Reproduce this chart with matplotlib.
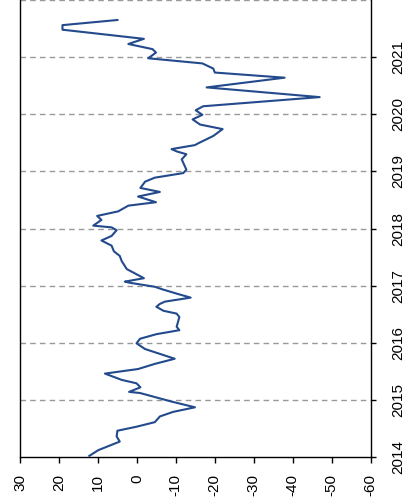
import matplotlib
matplotlib.use("Agg")
import matplotlib.pyplot as plt

plt.rcParams['font.family'] = ['Liberation Sans', 'DejaVu Sans']
plt.rcParams['axes.unicode_minus'] = False

# time (decimal year) and value
dates = [2014.02, 2014.12, 2014.27, 2014.36, 2014.46, 2014.53, 2014.61, 2014.71, 2014.79, 2014.87,
         2014.97, 2015.12, 2015.14, 2015.22, 2015.29, 2015.35, 2015.46, 2015.54, 2015.63, 2015.72,
         2015.89, 2015.99, 2016.07, 2016.15, 2016.22, 2016.28, 2016.45, 2016.51, 2016.56, 2016.63,
         2016.68, 2016.72, 2016.79, 2016.86, 2016.94, 2016.98, 2017.05, 2017.07, 2017.13, 2017.29,
         2017.43, 2017.52, 2017.60, 2017.70, 2017.79, 2017.87, 2017.97, 2018.02, 2018.05, 2018.15,
         2018.22, 2018.30, 2018.40, 2018.46, 2018.56, 2018.64, 2018.71, 2018.82, 2018.89, 2018.97,
         2019.03, 2019.21, 2019.30, 2019.35, 2019.39, 2019.46, 2019.49, 2019.62, 2019.74, 2019.82,
         2019.91, 2019.99, 2020.07, 2020.14, 2020.30, 2020.47, 2020.64, 2020.73, 2020.80, 2020.89,
         2020.98, 2021.08, 2021.14, 2021.23, 2021.32, 2021.48, 2021.56, 2021.65]
values = [12.2, 9.9, 4.4, 5.2, 5.0, 0.1, -4.6, -5.9, -9.3, -14.9,
          -8.9, -0.8, 2.0, -0.9, 0.1, 3.9, 8.2, -0.3, -4.6, -9.7,
          -2.1, 0.1, -0.8, -5.0, -10.9, -10.2, -10.9, -10.2, -6.8, -5.0,
          -5.9, -7.2, -13.8, -10.2, -6.3, -4.6, 1.8, 3.1, -1.8, 2.6,
          3.9, 4.4, 5.9, 6.5, 9.1, 6.5, 5.2, 6.5, 11.2, 9.1,
          10.2, 4.8, 2.2, -4.9, -0.3, -5.9, -0.9, -2.1, -4.6, -11.9,
          -12.7, -11.5, -12.7, -10.2, -8.9, -14.9, -15.7, -19.6, -22.0, -16.2,
          -14.3, -16.8, -15.1, -17.0, -46.9, -17.9, -37.9, -20.0, -19.6, -16.8,
          -2.9, -4.9, -4.0, 2.2, -1.8, 19.1, 19.1, 5.0]

value_ticks = [30, 20, 10, 0, -10, -20, -30, -40, -50, -60]
year_ticks = [2014, 2015, 2016, 2017, 2018, 2019, 2020, 2021]
grid_years = [2015, 2016, 2017, 2018, 2019, 2020, 2021, 2022]

fig = plt.figure(figsize=(4.08, 5.04), dpi=100)
ax = fig.add_axes([20/408, 47/504, (370.7-20)/408, 457/504])

for g in grid_years:
    ax.axhline(g, color='#999999', linestyle=(0, (4, 3)), linewidth=1.0, zorder=1)

ax.plot(values, dates, color='#234A8C', linewidth=1.5, zorder=3)

ax.set_xlim(30, -60)
ax.set_ylim(2014, 2022)

ax.set_xticks(value_ticks)
ax.set_xticklabels([str(v) for v in value_ticks], rotation=90, fontsize=11)
ax.yaxis.tick_right()
ax.set_yticks(year_ticks)
ax.set_yticklabels([str(y) for y in year_ticks], rotation=90, va='center', fontsize=11)

ax.spines['top'].set_visible(False)
for s in ['left', 'right', 'bottom']:
    ax.spines[s].set_linewidth(1.0)
    ax.spines[s].set_color('black')
ax.tick_params(axis='x', direction='out', length=4.5, width=1.0, pad=8)
ax.tick_params(axis='y', direction='out', length=3.5, width=1.0, pad=11)

fig.savefig('out.png', dpi=100)
